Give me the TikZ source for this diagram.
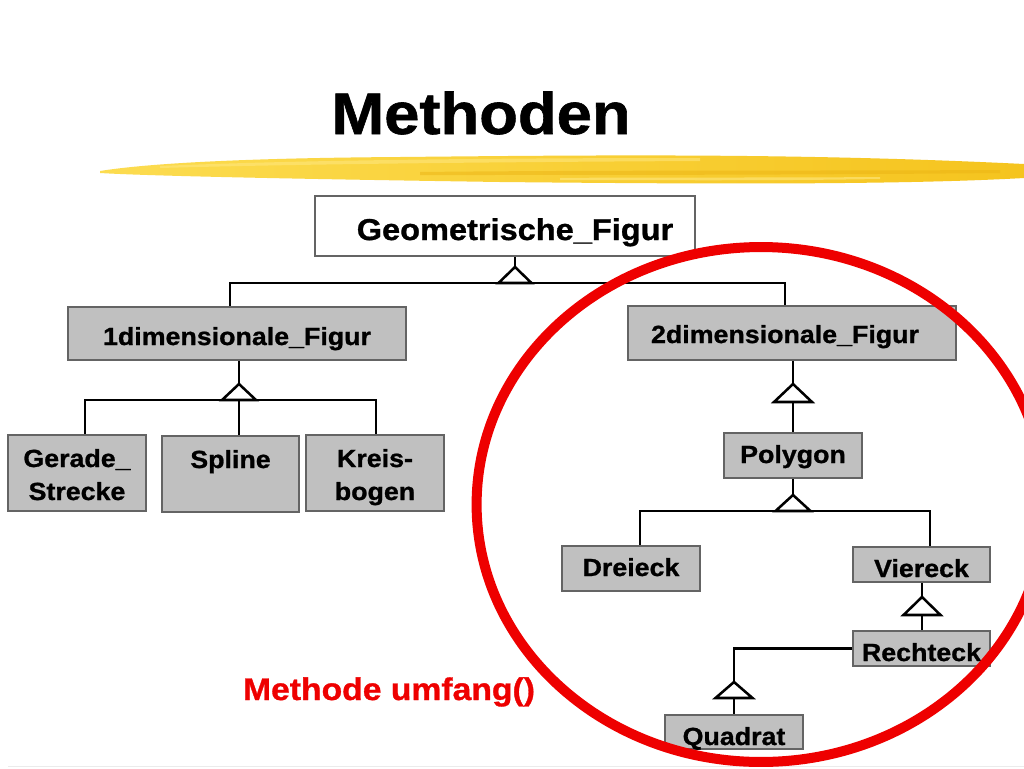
\documentclass[tikz,border=0pt]{standalone}
\usepackage{fontspec}
\setmainfont{Liberation Sans}[FakeStretch=1.08, BoldFeatures={FakeStretch=1.08, FakeBold=1}]
\usetikzlibrary{calc}
\definecolor{boxgray}{RGB}{192,192,192}
\definecolor{boxborder}{RGB}{100,100,100}
\definecolor{circred}{RGB}{238,0,0}
\definecolor{brushL}{RGB}{252,220,80}
\definecolor{brushR}{RGB}{245,196,30}
\definecolor{brushHi}{RGB}{255,232,130}
\definecolor{brushDk}{RGB}{236,180,20}
\begin{document}
\begin{tikzpicture}[x=0.75pt,y=-0.75pt,
  box/.style={draw=boxborder, line width=1.8pt, fill=boxgray, inner sep=0pt,
    font=\bfseries\fontsize{18.6pt}{24.75pt}\selectfont, align=center},
  wbox/.style={box, fill=white},
  link/.style={draw=black, line width=1.9pt},
  tri/.style={draw=black, line width=1.9pt, fill=white, line join=miter},
]
\useasboundingbox (0,0) rectangle (1024,768);
\clip (0,0) rectangle (1024,768);
\fill[white] (0,0) rectangle (1024,768);

% brush stroke under the title
\shade[left color=brushL, right color=brushR]
  (100,171) .. controls (150,163) and (250,158) .. (400,157)
  .. controls (600,155) and (800,153) .. (1024,164)
  -- (1024,178) .. controls (900,185) and (700,184) .. (500,182)
  .. controls (300,179) and (150,176) .. (100,173) -- cycle;
\fill[brushHi, opacity=0.55]
  (160,166) .. controls (300,160) and (500,158) .. (700,158)
  -- (700,161) .. controls (500,162) and (300,164) .. (160,168) -- cycle;
\fill[brushDk, opacity=0.5]
  (420,172) .. controls (600,170) and (800,171) .. (1000,170)
  -- (1000,173) .. controls (800,175) and (600,175) .. (420,175) -- cycle;
\fill[brushHi, opacity=0.6]
  (560,178) .. controls (650,177) and (760,178) .. (880,177)
  -- (880,179) .. controls (760,181) and (650,180) .. (560,180) -- cycle;
\draw[black!8, line width=1pt] (8,766.5) -- (1024,766.5);

% title
\node[font=\bfseries\fontsize{44pt}{50pt}\selectfont, anchor=base, inner sep=0pt] (title) at (481,134) {Methoden};

% boxes
\node[wbox, minimum width=285pt, minimum height=45pt, text height=33pt, text depth=12pt,
  font=\bfseries\fontsize{22.6pt}{27pt}\selectfont] (g) at (505,226) {\hspace*{15pt}Geometrische\_Figur};
\node[box, minimum width=253.5pt, minimum height=39.75pt, text height=28.5pt, text depth=11.25pt] (d1) at (237,333.5) {1dimensionale\_Figur};
\node[box, minimum width=103.5pt, minimum height=57pt, text height=48.75pt, text depth=8.25pt] (gs) at (77,473) {Gerade\_\\Strecke};
\node[box, minimum width=102.75pt, minimum height=57pt, text height=24pt, text depth=33pt] (sp) at (230.5,474) {Spline};
\node[box, minimum width=103.5pt, minimum height=57pt, text height=48.75pt, text depth=8.25pt] (kb) at (375,473) {Kreis-\\bogen};
\node[box, minimum width=246pt, minimum height=40.5pt, text height=27.75pt, text depth=12.75pt] (d2) at (792,333) {2dimensionale\_Figur\hspace*{10.5pt}};
\node[box, minimum width=103.5pt, minimum height=33.75pt, text height=22.5pt, text depth=11.25pt] (poly) at (793,455.5) {Polygon};
\node[box, minimum width=103.5pt, minimum height=33.75pt, text height=22.5pt, text depth=11.25pt] (drei) at (631,568.5) {Dreieck};
\node[box, minimum width=102.75pt, minimum height=26.25pt, text height=22.5pt, text depth=3.75pt] (vier) at (921.5,564.5) {Viereck};
\node[box, minimum width=102.75pt, minimum height=26.25pt, text height=22.5pt, text depth=3.75pt] (recht) at (921.5,648.5) {Rechteck};
\node[box, minimum width=103.5pt, minimum height=25.5pt, text height=22.5pt, text depth=3pt] (quad) at (734,732) {Quadrat};

% connectors
\coordinate (t0) at (515,267);
\coordinate (j1) at (230,283);
\coordinate (j2) at (785,283);
\draw[link] (g.south -| t0) -- (t0);
\draw[link] (d1.north -| j1) |- (j2) -- (d2.north -| j2);
\draw[tri] (t0) -- ++(-16.5,16) -- ++(33,0) -- cycle;

\coordinate (t1) at (239,384);
\coordinate (k1) at (85,400);
\coordinate (k3) at (376,400);
\draw[link] (d1.south -| t1) -- (sp.north -| t1);
\draw[link] (gs.north -| k1) |- (k3) -- (kb.north -| k3);
\draw[tri] (t1) -- ++(-17,16) -- ++(34,0) -- cycle;

\coordinate (t2) at (793,384);
\draw[link] (d2.south -| t2) -- (poly.north -| t2);
\draw[tri] (t2) -- ++(-19,18) -- ++(38,0) -- cycle;

\coordinate (t3) at (793,495);
\coordinate (m1) at (640,511);
\coordinate (m2) at (930,511);
\draw[link] (poly.south -| t3) -- (t3);
\draw[link] (drei.north -| m1) |- (m2) -- (vier.north -| m2);
\draw[tri] (t3) -- ++(-17.5,16) -- ++(35,0) -- cycle;

\coordinate (t4) at (922,597);
\draw[link] (vier.south -| t4) -- (recht.north -| t4);
\draw[tri] (t4) -- ++(-18.5,18) -- ++(37,0) -- cycle;

\coordinate (t5) at (734,682);
\draw[link] (recht.west) -| (quad.north);
\draw[tri] (t5) -- ++(-18.5,16) -- ++(37,0) -- cycle;

% red text and circle
\node[font=\bfseries\fontsize{23.4pt}{28pt}\selectfont, text=circred, anchor=base, inner sep=0pt] (meth) at (389,700) {Methode umfang()};
\draw[circred, line width=7.5pt] (761,504.5) ellipse [x radius=213.3pt, y radius=193.1pt];
\end{tikzpicture}
\end{document}
